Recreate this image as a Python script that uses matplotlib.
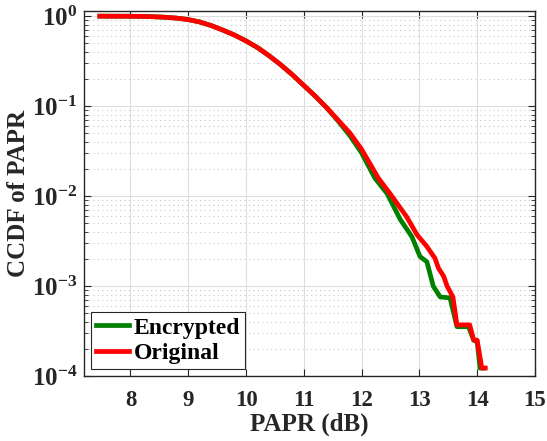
import numpy as np
import matplotlib
matplotlib.use("Agg")
import matplotlib.pyplot as plt
from matplotlib.ticker import FixedLocator, FuncFormatter, LogLocator, NullFormatter

plt.rcParams['font.family'] = ['Liberation Serif', 'DejaVu Serif']
plt.rcParams['font.weight'] = 'bold'
plt.rcParams['mathtext.fontset'] = 'custom'
plt.rcParams['mathtext.rm'] = 'Liberation Serif:bold'
plt.rcParams['mathtext.bf'] = 'Liberation Serif:bold'
plt.rcParams['mathtext.it'] = 'Liberation Serif:bold'

# Data; CCDF given as log10 values
orig_x = [7.47, 8.0, 8.3, 8.6, 8.8, 9.0, 9.2, 9.4, 9.6, 9.8, 10.0, 10.2, 10.4, 10.6, 10.8, 11.0,
          11.2, 11.4, 11.6, 11.8, 12.0, 12.29, 12.49, 12.78, 12.96, 13.13, 13.27, 13.33, 13.42,
          13.48, 13.58, 13.65, 13.87, 13.94, 14.0, 14.08, 14.14]
orig_log = [0.0, -0.001, -0.004, -0.012, -0.022, -0.038, -0.065, -0.105, -0.155, -0.21, -0.275,
            -0.35, -0.44, -0.54, -0.65, -0.77, -0.89, -1.02, -1.16, -1.30, -1.48, -1.80, -1.97,
            -2.23, -2.43, -2.56, -2.69, -2.80, -2.89, -3.0, -3.12, -3.43, -3.43, -3.6, -3.6,
            -3.91, -3.91]
enc_x = [7.47, 8.0, 8.3, 8.6, 8.8, 9.0, 9.2, 9.4, 9.6, 9.8, 10.0, 10.2, 10.4, 10.6, 10.8, 11.0,
         11.2, 11.4, 11.6, 11.8, 12.0, 12.23, 12.44, 12.67, 12.87, 13.01, 13.13, 13.24, 13.36,
         13.53, 13.65, 13.85, 13.94, 14.0, 14.05, 14.1]
enc_log = [0.0, -0.001, -0.004, -0.012, -0.022, -0.038, -0.065, -0.105, -0.155, -0.21, -0.275,
           -0.35, -0.44, -0.54, -0.65, -0.77, -0.89, -1.02, -1.17, -1.33, -1.52, -1.80, -1.97,
           -2.26, -2.45, -2.67, -2.73, -3.0, -3.12, -3.13, -3.45, -3.45, -3.6, -3.62, -3.91, -3.91]
orig_y = [10 ** v for v in orig_log]
enc_y = [10 ** v for v in enc_log]

xticks = [8, 9, 10, 11, 12, 13, 14, 15]
yticks = [1e-4, 1e-3, 1e-2, 1e-1, 1e0]

fig = plt.figure(figsize=(5.47, 4.41), dpi=100)
ax = fig.add_axes([0.154, 0.147, 0.824, 0.829])

dark = '#262626'
ax.semilogy(enc_x, enc_y, color='#008000', lw=3.4, label='Encrypted')
ax.semilogy(orig_x, orig_y, color='#ff0000', lw=3.4, label='Original')

ax.set_xlim(7.2, 15)
ax.set_ylim(1e-4, 10 ** 0.062)
ax.xaxis.set_major_locator(FixedLocator(xticks))
ax.yaxis.set_major_locator(FixedLocator(yticks))
ax.yaxis.set_minor_locator(LogLocator(base=10, subs=np.arange(2, 10), numticks=20))
ax.yaxis.set_minor_formatter(NullFormatter())
ax.yaxis.set_major_formatter(FuncFormatter(lambda v, p: r'$\mathbf{10^{%d}}$' % int(round(np.log10(v)))))

ax.grid(True, which='major', color='#dedede', lw=0.8, ls='-')
ax.grid(True, which='minor', axis='y', color='#c8c8c8', lw=0.8, ls=(0, (1, 3)))
ax.set_axisbelow(True)

ax.tick_params(which='both', direction='in', top=True, right=True, colors=dark, labelcolor=dark)
ax.tick_params(which='major', length=5, width=0.8)
ax.tick_params(axis='x', which='major', pad=10, labelsize=16.5)
ax.tick_params(axis='y', which='major', pad=5, labelsize=18)
ax.tick_params(which='minor', length=3, width=0.6)
for lbl in ax.get_xticklabels() + ax.get_yticklabels():
    lbl.set_fontweight('bold')
for s in ax.spines.values():
    s.set_color(dark)
    s.set_linewidth(1.0)

ax.set_xlabel('PAPR (dB)', fontsize=18, fontweight='bold', color=dark, labelpad=1)
ax.set_ylabel('CCDF of PAPR', fontsize=18, fontweight='bold', color=dark, labelpad=1)

leg = ax.legend(loc='lower left', fontsize=17, frameon=True, fancybox=False, framealpha=1,
                edgecolor=dark, borderaxespad=0.3, handlelength=1.4, handletextpad=0.2,
                labelspacing=0.18, borderpad=0.2)
leg.get_frame().set_linewidth(0.8)
for t in leg.get_texts():
    t.set_fontweight('bold')
    t.set_color('black')

fig.savefig('out.png', dpi=100)
